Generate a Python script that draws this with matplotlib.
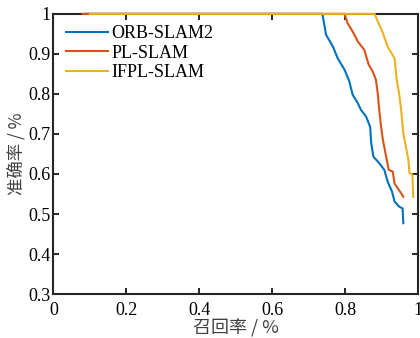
import matplotlib.pyplot as plt
from matplotlib.ticker import FuncFormatter

# recall / precision
orb_r = [0.09, 0.738, 0.748, 0.767, 0.78, 0.799, 0.812, 0.821, 0.835, 0.844, 0.858, 0.869,
         0.872, 0.878, 0.894, 0.908, 0.917, 0.929, 0.936, 0.949, 0.958, 0.960]
orb_p = [1.0, 1.0, 0.948, 0.918, 0.889, 0.86, 0.831, 0.798, 0.777, 0.76, 0.743, 0.718,
         0.677, 0.643, 0.627, 0.61, 0.581, 0.556, 0.531, 0.518, 0.514, 0.477]

pl_r = [0.08, 0.799, 0.807, 0.821, 0.835, 0.853, 0.865, 0.876, 0.885, 0.89, 0.894, 0.899,
        0.904, 0.913, 0.92, 0.931, 0.936, 0.945, 0.951, 0.96]
pl_p = [1.0, 1.0, 0.977, 0.956, 0.931, 0.91, 0.873, 0.856, 0.835, 0.80, 0.76, 0.718,
        0.685, 0.643, 0.61, 0.606, 0.576, 0.564, 0.556, 0.543]

ifpl_r = [0.10, 0.881, 0.89, 0.904, 0.917, 0.936, 0.942, 0.949, 0.954, 0.96, 0.967, 0.974,
          0.977, 0.985, 0.987]
ifpl_p = [1.0, 1.0, 0.981, 0.952, 0.918, 0.889, 0.835, 0.798, 0.76, 0.702, 0.668, 0.635,
          0.602, 0.598, 0.543]

labels = ['ORB-SLAM2', 'PL-SLAM', 'IFPL-SLAM']
colors = ['#0072BD', '#D95319', '#EDB120']

plt.rcParams['font.family'] = ['Liberation Serif', 'Noto Sans CJK SC']

fig = plt.figure(figsize=(4.2, 3.38), dpi=100)
ax = fig.add_axes([0.127, 0.130, 0.868, 0.829])

for r, p, lab, c in zip([orb_r, pl_r, ifpl_r], [orb_p, pl_p, ifpl_p], labels, colors):
    ax.plot(r, p, color=c, lw=1.5, label=lab, clip_on=False, zorder=3)

ax.set_xlim(0, 1)
ax.set_ylim(0.3, 1)
ax.set_xticks([0, 0.2, 0.4, 0.6, 0.8, 1])
ax.set_yticks([0.3, 0.4, 0.5, 0.6, 0.7, 0.8, 0.9, 1])
fmt = FuncFormatter(lambda v, pos: '%g' % round(v, 2))
ax.xaxis.set_major_formatter(fmt)
ax.yaxis.set_major_formatter(fmt)
ax.tick_params(direction='in', top=True, right=True, labelsize=13, length=4, width=1.2)
ax.tick_params(axis='x', pad=6)
ax.tick_params(axis='y', pad=2)
for s in ax.spines.values():
    s.set_linewidth(1.5)
    s.set_color('#262626')

ax.set_xlabel('召回率 / %', fontsize=13, labelpad=0, color='#404040',
              family=['Noto Sans CJK SC', 'Liberation Serif'])
ax.set_ylabel('准确率 / %', fontsize=12.5, labelpad=1, color='#404040',
              family=['Noto Sans CJK SC', 'Liberation Serif'])

ax.legend(loc='upper left', frameon=False, fontsize=13, handlelength=2.3,
          handletextpad=0.2, labelspacing=0.14, borderaxespad=0.3,
          bbox_to_anchor=(0.0, 1.005))

fig.savefig('out.png', dpi=100)
